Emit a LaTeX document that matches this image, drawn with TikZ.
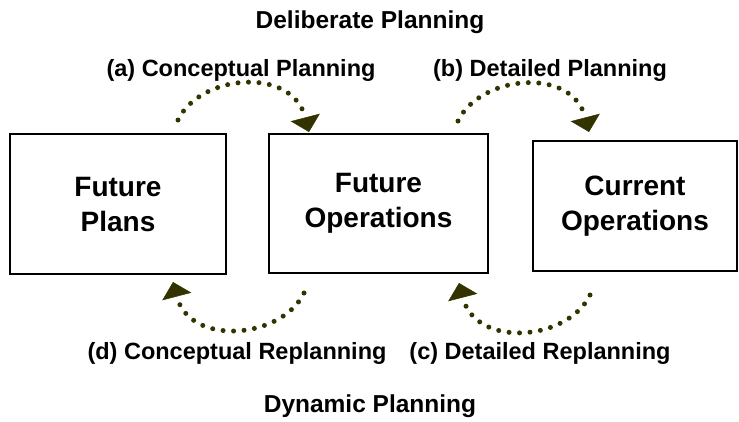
\documentclass[tikz,border=0pt]{standalone}
\usepackage{fontspec}
\setmainfont{Liberation Sans}
\usetikzlibrary{arrows.meta}
\definecolor{olivedot}{HTML}{333300}
\tikzset{
  boxnode/.style={draw=black, line width=1.5pt, inner sep=0pt},
  boxtext/.style={font=\fontsize{28}{35}\selectfont\bfseries, align=center},
  labeltext/.style={font=\fontsize{23.5}{27}\selectfont\bfseries},
  titletext/.style={font=\fontsize{24.5}{28}\selectfont\bfseries},
  dotarrow/.style={draw=olivedot, line width=5pt, line cap=round,
    dash pattern=on 0pt off 10.5pt,
    -{Triangle[length=15pt,width=30pt,line width=0.5pt,fill=olivedot]}}
}
\begin{document}
\begin{tikzpicture}[x=1pt,y=-1pt]
\useasboundingbox (0,0) rectangle (739,421);
% boxes
\draw[boxnode] (10,134) rectangle (226,274);
\draw[boxnode] (269,134) rectangle (488,273);
\draw[boxnode] (533,141) rectangle (737,271);
\node[boxtext] (fp) at (118,204) {Future\\Plans};
\node[boxtext] (fo) at (378.5,203.5) {Future\\Operations};
\node[boxtext] (co) at (635,206) {Current\\Operations};
% labels
\node[titletext] (dp) at (370,22) {Deliberate Planning};
\node[labeltext] (la) at (241,70) {(a) Conceptual Planning};
\node[labeltext] (lb) at (550,70) {(b) Detailed Planning};
\node[labeltext] (ld) at (237,353) {(d) Conceptual Replanning};
\node[labeltext] (lc) at (540,353) {(c) Detailed Replanning};
\node[titletext] (dyn) at (370,406) {Dynamic Planning};
% arrow coordinates
\coordinate (a0) at (178,120);
\coordinate (a1) at (309,132);
\coordinate (b0) at (458,121);
\coordinate (b1) at (589,132);
\coordinate (d0) at (304,293);
\coordinate (d1) at (173,282);
\coordinate (c0) at (590,295);
\coordinate (c1) at (459,283);
% arrows
\path[dotarrow] (a0) .. controls (200,74) and (292,66) .. (a1);
\path[dotarrow] (b0) .. controls (480,75) and (572,66) .. (b1);
\path[dotarrow] (d0) .. controls (282,339) and (190,347) .. (d1);
\path[dotarrow] (c0) .. controls (568,341) and (476,349) .. (c1);
\end{tikzpicture}
\end{document}
